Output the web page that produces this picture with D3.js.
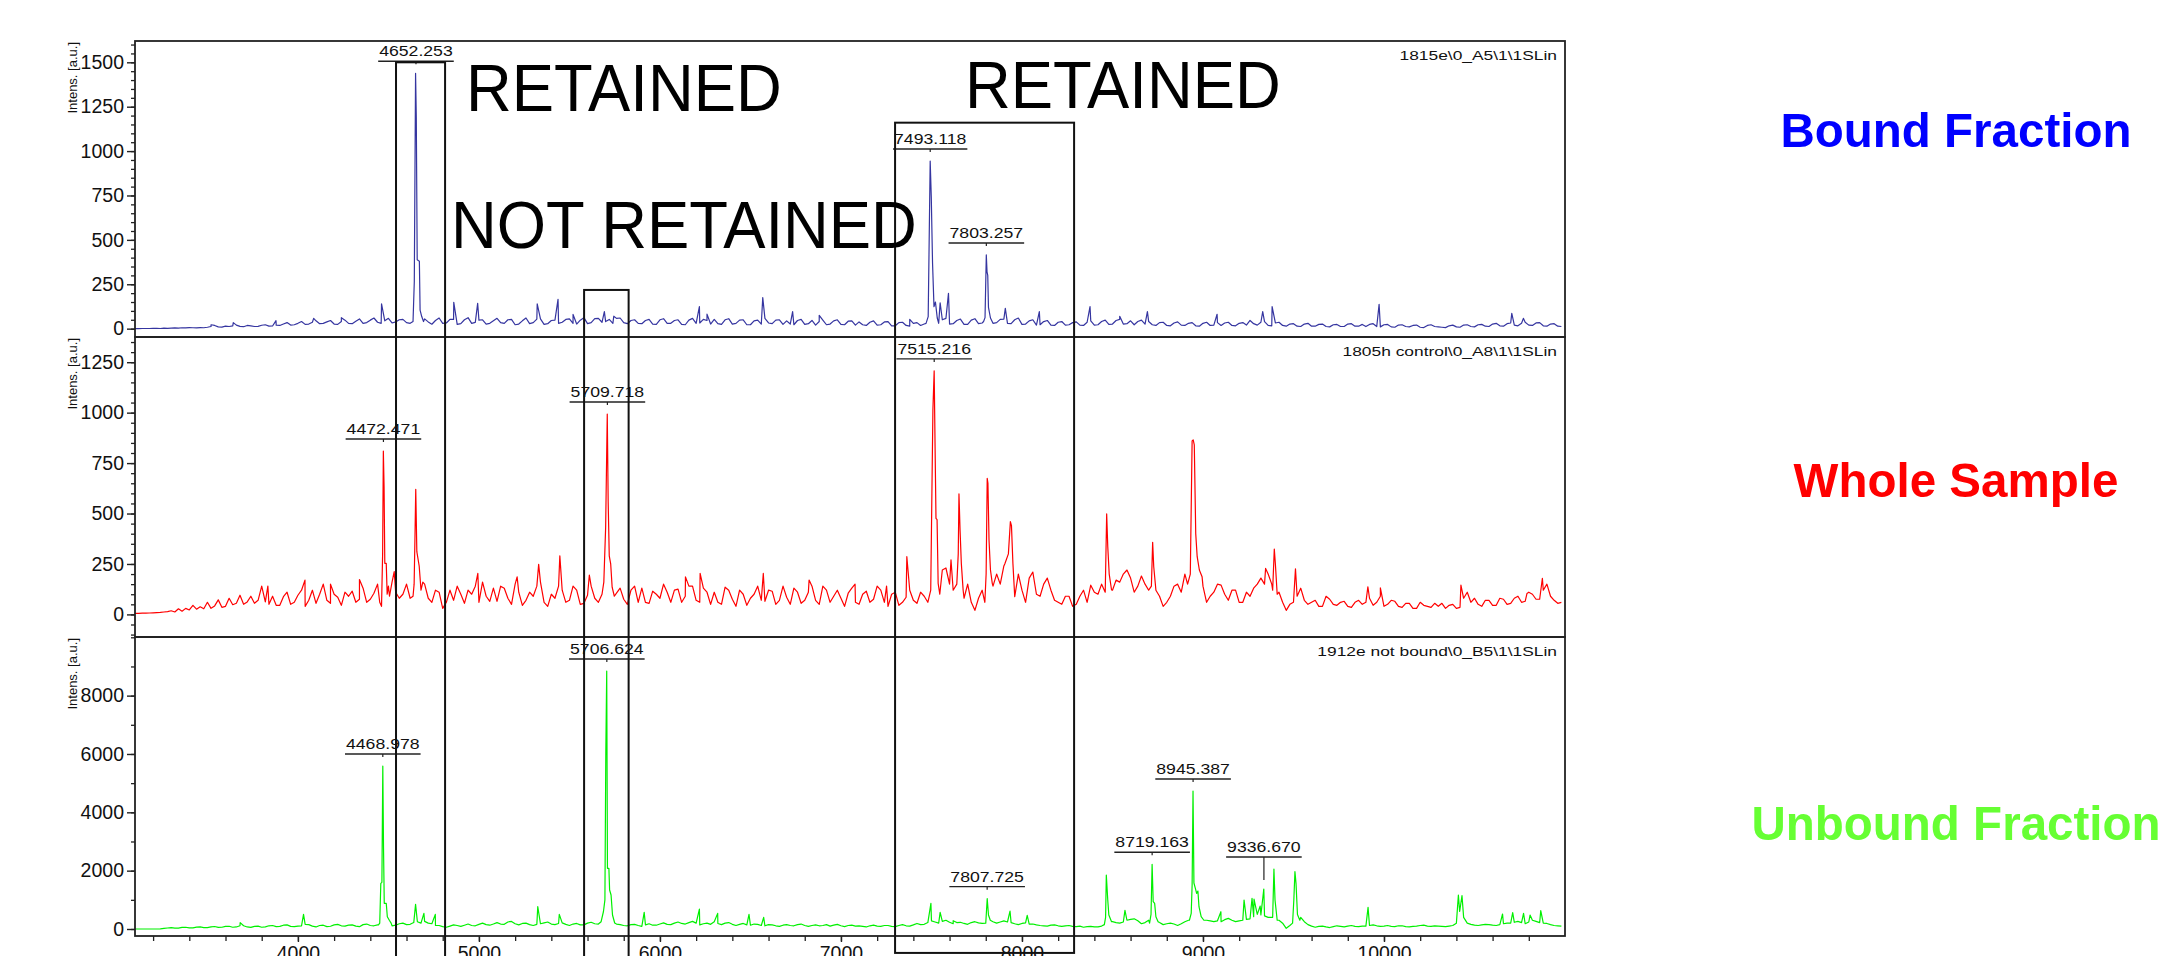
<!DOCTYPE html>
<html>
<head>
<meta charset="utf-8">
<title>Bound / whole / unbound spectra</title>
<script src="https://cdn.jsdelivr.net/npm/d3@7/dist/d3.min.js"></script>
<style>
  body { margin: 0; background: #fff; }
  svg text { font-family: "Liberation Sans", Arial, Helvetica, sans-serif; }
</style>
</head>
<body>
<svg id="chart" width="2167" height="956"></svg>
<script>
// baseline arrays are sampled every massStep Da starting at massStart (one row = 400 Da)
var massStart = 3100;
var massStep = 20;
var massDomain = [3100, 11000];
var massTicks = [4000, 5000, 6000, 7000, 8000, 9000, 10000];

// ---- bound fraction (top panel)
var boundBase = [
  0, 0, 1, 1, 1, 2, 2, 1, 3, 2, 3, 4, 3, 5, 4, 6, 5, 4, 6, 5,
  8, 12, 18, 10, 9, 14, 12, 16, 20, 13, 11, 18, 16, 12, 13, 19, 22, 14, 15, 20,
  18, 26, 34, 20, 22, 30, 40, 24, 26, 36, 44, 28, 30, 38, 46, 26, 24, 40, 48, 30,
  28, 42, 55, 30, 34, 48, 60, 36, 30, 44, 58, 32, 38, 50, 52, 34, 30, 36, 40, 44,
  55, 38, 25, 46, 60, 30, 32, 52, 52, 24, 28, 50, 62, 30, 35, 48, 50, 26, 30, 44,
  58, 34, 30, 50, 52, 22, 26, 44, 60, 28, 34, 54, 55, 24, 28, 46, 48, 30, 36, 52,
  55, 30, 26, 48, 62, 28, 34, 56, 58, 36, 40, 52, 30, 58, 60, 34, 28, 46, 50, 30,
  28, 46, 52, 26, 24, 50, 56, 30, 30, 46, 50, 24, 22, 48, 58, 30, 32, 52, 46, 26,
  52, 28, 24, 50, 56, 26, 30, 48, 50, 22, 22, 44, 48, 26, 58, 32, 28, 48, 50, 24,
  44, 26, 22, 46, 52, 24, 28, 46, 20, 40, 48, 22, 26, 44, 50, 24, 22, 42, 44, 20,
  38, 22, 18, 36, 44, 20, 22, 38, 40, 16, 16, 34, 36, 18, 14, 30, 34, 18, 26, 30,
  48, 30, 30, 50, 58, 26, 28, 46, 54, 24, 24, 48, 56, 28, 32, 50, 60, 30, 34, 52,
  54, 30, 28, 50, 60, 24, 26, 44, 50, 20, 22, 40, 46, 20, 18, 36, 40, 20, 22, 34,
  38, 20, 18, 36, 44, 20, 22, 40, 48, 24, 26, 46, 52, 26, 28, 44, 22, 40, 48, 26,
  40, 22, 18, 34, 36, 18, 16, 32, 38, 20, 18, 30, 34, 16, 14, 30, 36, 18, 20, 34,
  18, 32, 36, 18, 16, 30, 34, 20, 46, 28, 20, 36, 40, 18, 16, 32, 36, 18, 14, 26,
  28, 14, 12, 26, 30, 14, 14, 24, 26, 12, 10, 22, 24, 12, 12, 26, 28, 14, 14, 24,
  12, 24, 28, 12, 10, 22, 24, 10, 8, 20, 22, 12, 10, 18, 20, 8, 6, 18, 22, 12,
  10, 8, 6, 16, 20, 10, 8, 20, 22, 12, 10, 22, 24, 14, 12, 26, 30, 16, 14, 28,
  32, 20, 16, 30, 36, 20, 18, 32, 34, 16, 14, 26, 28, 14, 12
];
var boundSpikes = [
  [3520, 22], [3643, 34], [3879, 45], [4087, 58], [4240, 62], [4462, 139],
  [4861, 148], [4993, 143], [5322, 139], [5437, 165], [5520, 80], [5693, 96],
  [5745, 70], [6218, 124], [6260, 82], [6568, 175], [6733, 96], [6880, 75],
  [7380, 52], [7548, 146], [7594, 199], [7908, 114], [8096, 96], [8376, 124],
  [8540, 70], [8693, 96], [9078, 81], [9330, 96], [9382, 124], [9973, 137],
  [10706, 86], [10770, 58]
];
var boundPeaks = [
  [[4636, 40], [4643, 265], [4650, 1438], [4654, 1190], [4659, 388], [4671, 380], [4675, 104], [4684, 68], [4694, 40]],
  [[7470, 30], [7482, 68], [7493, 944], [7499, 743], [7506, 370], [7514, 124], [7522, 150], [7532, 60]],
  [[7788, 40], [7796, 62], [7803, 415], [7807, 320], [7811, 300], [7815, 120], [7826, 60]]
];
var boundLabels = [4652.253, 7493.118, 7803.257];
var boundTicks = [0, 250, 500, 750, 1000, 1250, 1500];

// ---- whole sample (middle panel)
var wholeBase = [
  5, 5, 6, 6, 7, 8, 9, 10, 12, 14, 18, 12, 28, 16, 30, 22, 45, 26, 38, 28,
  60, 30, 42, 72, 35, 40, 80, 48, 55, 95, 50, 62, 90, 55, 70, 140, 62, 50, 90, 45,
  45, 88, 110, 50, 60, 95, 120, 40, 70, 120, 55, 100, 150, 70, 55, 100, 85, 45, 110, 90,
  115, 60, 75, 130, 60, 75, 105, 150, 140, 90, 120, 160, 110, 80, 100, 150, 80, 40, 110, 90,
  150, 80, 60, 120, 110, 30, 60, 120, 70, 140, 100, 55, 120, 100, 140, 60, 160, 90, 65, 130,
  65, 140, 130, 80, 50, 150, 110, 45, 70, 110, 90, 140, 160, 60, 40, 100, 80, 140, 120, 60,
  70, 140, 120, 50, 55, 95, 140, 80, 60, 110, 100, 40, 70, 105, 130, 75, 50, 120, 140, 60,
  130, 60, 55, 115, 100, 80, 150, 110, 60, 120, 125, 60, 90, 140, 140, 70, 60, 130, 110, 50,
  110, 60, 50, 135, 120, 75, 40, 120, 100, 45, 80, 100, 140, 70, 65, 120, 115, 50, 70, 140,
  85, 50, 130, 110, 55, 70, 110, 140, 70, 50, 140, 120, 60, 90, 120, 80, 40, 105, 130, 60,
  50, 100, 115, 60, 75, 140, 120, 60, 40, 100, 110, 45, 60, 85, 120, 70, 55, 110, 90, 60,
  110, 100, 150, 220, 230, 150, 120, 100, 150, 80, 150, 60, 20, 80, 120, 180, 180, 140, 200, 150,
  240, 220, 150, 110, 200, 120, 60, 180, 210, 100, 90, 150, 180, 120, 70, 60, 50, 90, 90, 40,
  50, 90, 120, 60, 145, 110, 100, 150, 200, 120, 120, 170, 160, 200, 220, 180, 110, 140, 190, 150,
  120, 180, 60, 90, 40, 60, 90, 140, 150, 110, 200, 150, 240, 210, 180, 140, 60, 90, 110, 150,
  145, 100, 70, 120, 120, 60, 60, 110, 90, 130, 150, 180, 150, 200, 150, 110, 110, 60, 20, 50,
  60, 90, 130, 70, 50, 60, 70, 40, 40, 90, 75, 50, 45, 60, 65, 40, 35, 60, 70, 50,
  60, 80, 45, 60, 90, 40, 50, 70, 65, 40, 35, 55, 55, 30, 30, 60, 45, 40, 35, 55,
  40, 55, 30, 45, 50, 30, 35, 80, 110, 60, 80, 50, 40, 70, 70, 45, 45, 80, 75, 50,
  55, 80, 90, 60, 65, 110, 100, 75, 75, 120, 150, 90, 70, 55, 60
];
var wholeSpikes = [
  [3834, 140], [4039, 170], [4180, 150], [4340, 173], [4532, 212], [4994, 203],
  [5211, 186], [5330, 248], [5447, 290], [5610, 195], [6141, 186], [6222, 203],
  [6571, 203], [6824, 170], [7078, 150], [7252, 140], [7364, 286], [7608, 270],
  [9346, 228], [9511, 226], [9911, 137], [9980, 132], [10425, 145], [10790, 104],
  [10875, 179]
];
var wholePeaks = [
  [[4452, 60], [4462, 40], [4468, 300], [4472, 810], [4476, 633], [4480, 253], [4488, 253], [4493, 100], [4500, 140], [4506, 90]],
  [[4636, 90], [4642, 150], [4647, 400], [4651, 620], [4657, 311], [4670, 240], [4680, 120], [4690, 160]],
  [[5680, 100], [5690, 160], [5700, 430], [5709, 993], [5714, 560], [5720, 290], [5728, 250], [5736, 135], [5748, 90]],
  [[7480, 60], [7496, 120], [7508, 1013], [7515, 1207], [7520, 831], [7525, 476], [7531, 470], [7537, 154], [7546, 100]],
  [[7640, 150], [7648, 300], [7652, 597], [7658, 418], [7665, 253], [7675, 121]],
  [[7795, 60], [7802, 200], [7808, 674], [7812, 650], [7818, 369], [7826, 220], [7836, 154]],
  [[7905, 250], [7925, 300], [7936, 460], [7942, 440], [7950, 253], [7960, 88]],
  [[8460, 110], [8468, 498], [8474, 336], [8482, 200], [8495, 121]],
  [[8715, 140], [8722, 357], [8728, 236], [8740, 120]],
  [[8915, 150], [8930, 200], [8940, 860], [8946, 865], [8952, 840], [8960, 400], [8968, 286], [8980, 220], [8995, 187]],
  [[9385, 120], [9394, 324], [9400, 250], [9410, 100]]
];
var wholeLabels = [4472.471, 5709.718, 7515.216];
var wholeTicks = [0, 250, 500, 750, 1000, 1250];

// ---- unbound fraction (bottom panel)
var unboundBase = [
  0, 0, 0, 0, 0, 0, 0, 5, 20, 35, 45, 30, 30, 55, 60, 40, 40, 65, 70, 50,
  50, 75, 85, 55, 60, 90, 95, 60, 70, 110, 110, 70, 55, 90, 100, 60, 75, 110, 120, 80,
  90, 130, 140, 90, 80, 100, 110, 160, 150, 100, 70, 120, 130, 80, 95, 140, 160, 110, 100, 130,
  140, 100, 80, 150, 170, 120, 110, 140, 150, 100, 90, 110, 130, 180, 200, 150, 160, 220, 250, 200,
  260, 200, 180, 120, 120, 80, 60, 100, 140, 120, 90, 130, 170, 120, 110, 160, 200, 150, 130, 170,
  220, 170, 160, 240, 260, 180, 140, 190, 200, 150, 120, 160, 180, 210, 240, 170, 150, 190, 210, 160,
  120, 170, 190, 140, 140, 200, 230, 180, 170, 220, 300, 240, 200, 170, 150, 120, 110, 150, 160, 120,
  90, 140, 180, 130, 130, 170, 210, 160, 150, 200, 240, 190, 170, 220, 260, 200, 140, 180, 200, 160,
  250, 190, 150, 200, 220, 160, 120, 160, 190, 140, 130, 170, 160, 120, 110, 150, 140, 110, 90, 130,
  150, 120, 110, 150, 170, 120, 90, 120, 140, 110, 120, 150, 100, 130, 160, 110, 80, 120, 130, 100,
  110, 90, 70, 110, 130, 100, 90, 120, 120, 90, 80, 120, 150, 110, 100, 140, 190, 150, 160, 220,
  280, 240, 200, 260, 300, 230, 180, 220, 230, 190, 160, 220, 250, 210, 190, 230, 300, 250, 200, 240,
  280, 240, 220, 180, 150, 190, 210, 170, 170, 140, 120, 110, 100, 130, 140, 110, 90, 110, 120, 90,
  80, 100, 60, 80, 90, 70, 70, 100, 250, 300, 250, 220, 200, 240, 300, 330, 350, 280, 180, 220,
  300, 260, 280, 220, 150, 180, 200, 170, 120, 180, 250, 300, 600, 500, 420, 350, 300, 280, 250, 280,
  250, 320, 365, 300, 251, 280, 300, 330, 350, 420, 500, 480, 450, 400, 400, 350, 300, 200, 23, 120,
  300, 350, 400, 250, 150, 100, 60, 90, 100, 70, 50, 80, 110, 90, 70, 100, 120, 90, 80, 100,
  100, 120, 140, 110, 90, 100, 120, 90, 80, 110, 110, 80, 70, 90, 100, 120, 130, 100, 90, 110,
  100, 90, 80, 100, 120, 140, 150, 180, 200, 160, 130, 120, 140, 160, 150, 130, 120, 150, 180, 200,
  200, 230, 260, 220, 180, 240, 300, 260, 220, 200, 190, 150, 120, 110, 100
];
var unboundSpikes = [
  [3681, 217], [4031, 502], [4650, 845], [4696, 536], [4759, 502], [5325, 765],
  [5444, 502], [5913, 571], [6218, 685], [6319, 536], [6492, 502], [6573, 400],
  [7497, 880], [7548, 571], [7620, 285], [7934, 616], [8029, 468], [8569, 639],
  [9099, 593], [9227, 993], [9271, 1051], [9282, 1028], [9316, 788], [9336, 1371],
  [9912, 742], [10655, 514], [10711, 559], [10771, 536], [10807, 479], [10866, 628]
];
var unboundPeaks = [
  [[4445, 140], [4452, 200], [4458, 1566], [4464, 1600], [4469, 5588], [4473, 2766], [4477, 881], [4488, 881], [4494, 422], [4505, 300], [4515, 200]],
  [[5675, 250], [5688, 600], [5696, 1000], [5701, 6080], [5706, 8845], [5710, 2080], [5718, 2080], [5722, 1337], [5730, 1165], [5738, 480], [5750, 206]],
  [[7800, 200], [7808, 1040], [7815, 479], [7825, 300]],
  [[8455, 150], [8462, 400], [8466, 1851], [8474, 993], [8480, 479], [8495, 250]],
  [[8705, 200], [8713, 500], [8719, 2218], [8725, 936], [8733, 879], [8740, 422], [8752, 251]],
  [[8925, 300], [8935, 536], [8940, 1500], [8945, 4731], [8950, 1577], [8958, 1394], [8965, 1222], [8972, 1300], [8978, 765], [8990, 422], [9005, 300]],
  [[9385, 400], [9392, 2056], [9398, 993], [9410, 300]],
  [[9495, 200], [9502, 1000], [9508, 1965], [9514, 1565], [9522, 500], [9535, 300]],
  [[10400, 200], [10411, 1165], [10418, 600], [10431, 1142], [10440, 400]]
];
var unboundLabels = [4468.978, 5706.624, 7807.725, 8719.163, 8945.387, 9336.670];
var unboundTicks = [0, 2000, 4000, 6000, 8000];

var panelTitles = ['1815e\\0_A5\\1\\1SLin', '1805h control\\0_A8\\1\\1SLin', '1912e not bound\\0_B5\\1\\1SLin'];
var sideNames = ['Bound Fraction', 'Whole Sample', 'Unbound Fraction'];

// highlight boxes: m/z span, top in bound-fraction units, bottom in unbound units
var boxFrom = [4542, 5581, 7299];
var boxTo = [4813, 5827, 8288];
var boxTop = [1500, 218, 1160];
var boxBottom = [-1200, -1200, -820];

var svg = d3.select('#chart');

var x = d3.scaleLinear().domain(massDomain).range([135, 1565]);

function buildSpectrum(base, spikes, peaks) {
  var pts = base.map(function(v, i) { return [massStart + i * massStep, v]; });
  peaks.forEach(function(g) {
    var lo = g[0][0], hi = g[g.length - 1][0];
    pts = pts.filter(function(p) { return p[0] < lo || p[0] > hi; });
  });
  peaks.forEach(function(g) { pts = pts.concat(g); });
  pts = pts.concat(spikes);
  pts.sort(function(a, b) { return a[0] - b[0]; });
  return pts;
}

// stretch a text element to a multiple of its natural width
function stretch(sel, k) {
  var w = sel.node().getComputedTextLength() * k;
  sel.attr('textLength', w).attr('lengthAdjust', 'spacingAndGlyphs');
  return w;
}

var panels = [
  { base: boundBase, spikes: boundSpikes, peaks: boundPeaks, labels: boundLabels, ticks: boundTicks,
    color: '#3535a0', top: 41, bottom: 337, domain: [-47, 1620], minor: 50, side: '#0000ff', sideY: 147 },
  { base: wholeBase, spikes: wholeSpikes, peaks: wholePeaks, labels: wholeLabels, ticks: wholeTicks,
    color: '#ff0000', top: 337, bottom: 637, domain: [-112, 1375], minor: 50, side: '#ff0000', sideY: 497 },
  { base: unboundBase, spikes: unboundSpikes, peaks: unboundPeaks, labels: unboundLabels, ticks: unboundTicks,
    color: '#00f000', top: 637, bottom: 936, domain: [-240, 10010], minor: 1000, side: '#66ff33', sideY: 840 }
];

var defs = svg.append('defs');

panels.forEach(function(p, i) {
  p.y = d3.scaleLinear().domain(p.domain).range([p.bottom, p.top]);
  p.series = buildSpectrum(p.base, p.spikes, p.peaks);

  defs.append('clipPath')
    .attr('id', 'clip-' + i)
    .append('rect')
    .attr('x', 135).attr('y', p.top)
    .attr('width', 1430).attr('height', p.bottom - p.top);

  // minor ticks
  var lo = Math.ceil(p.domain[0] / p.minor) * p.minor;
  var minorVals = d3.range(lo, p.domain[1], p.minor);
  var gm = svg.append('g')
    .attr('transform', 'translate(135,0)')
    .call(d3.axisLeft(p.y).tickValues(minorVals).tickSize(4).tickFormat(''));
  gm.select('.domain').remove();
  gm.selectAll('line').attr('stroke', '#222').attr('stroke-width', 1.3);

  // major ticks
  var ga = svg.append('g')
    .attr('transform', 'translate(135,0)')
    .call(d3.axisLeft(p.y).tickValues(p.ticks).tickSize(8).tickPadding(3).tickFormat(d3.format('d')));
  ga.select('.domain').remove();
  ga.selectAll('line').attr('stroke', '#222').attr('stroke-width', 1.4);
  ga.selectAll('text')
    .attr('font-size', 19.5)
    .attr('font-family', '"Liberation Sans", Arial, sans-serif')
    .attr('fill', '#111');

  // axis title
  svg.append('text')
    .attr('transform', 'translate(77,' + (p.top + 1) + ') rotate(-90)')
    .attr('text-anchor', 'end')
    .attr('font-size', 13)
    .attr('fill', '#111')
    .text('Intens. [a.u.]');

  // spectrum trace
  var line = d3.line()
    .x(function(d) { return x(d[0]); })
    .y(function(d) { return p.y(d[1]); });
  svg.append('path')
    .datum(p.series)
    .attr('clip-path', 'url(#clip-' + i + ')')
    .attr('fill', 'none')
    .attr('stroke', p.color)
    .attr('stroke-width', 1.2)
    .attr('stroke-linejoin', 'round')
    .attr('d', line);

  // frame
  svg.append('rect')
    .attr('x', 135).attr('y', p.top)
    .attr('width', 1430).attr('height', p.bottom - p.top)
    .attr('fill', 'none')
    .attr('stroke', '#222')
    .attr('stroke-width', 1.8);

  // spectrum name, top right
  var t = svg.append('text')
    .attr('x', 1557).attr('y', p.top + 19)
    .attr('text-anchor', 'end')
    .attr('font-size', 12.5)
    .attr('fill', '#111')
    .text(panelTitles[i]);
  stretch(t, 1.39);

  // peak labels
  p.labels.forEach(function(m) {
    var own = d3.max(p.series.filter(function(d) { return Math.abs(d[0] - m) <= 10; }), function(d) { return d[1]; });
    var level = d3.max(p.series.filter(function(d) { return Math.abs(d[0] - m) <= 60; }), function(d) { return d[1]; });
    var cx = x(m);
    var uy = p.y(level) - 12;
    var g = svg.append('g');
    var lt = g.append('text')
      .attr('x', cx).attr('y', uy - 5)
      .attr('text-anchor', 'middle')
      .attr('font-size', 14)
      .attr('fill', '#111')
      .text(m.toFixed(3));
    var w = stretch(lt, 1.26);
    g.append('line')
      .attr('x1', cx - w / 2 - 1).attr('x2', cx + w / 2 + 1)
      .attr('y1', uy).attr('y2', uy)
      .attr('stroke', '#222').attr('stroke-width', 1.4);
    g.append('line')
      .attr('x1', cx).attr('x2', cx)
      .attr('y1', uy).attr('y2', p.y(own) - 9)
      .attr('stroke', '#222').attr('stroke-width', 1.2);
  });

  // sample name on the right
  var s = svg.append('text')
    .attr('x', 1956).attr('y', p.sideY)
    .attr('text-anchor', 'middle')
    .attr('font-size', 49)
    .attr('font-weight', 'bold')
    .attr('fill', p.side)
    .text(sideNames[i]);
  stretch(s, 0.97);
});

// m/z axis under the bottom panel
var minorX = d3.range(3200, 11000, 200);
var gx = svg.append('g')
  .attr('transform', 'translate(0,936)')
  .call(d3.axisBottom(x).tickValues(minorX).tickSize(5).tickFormat(''));
gx.select('.domain').remove();
gx.selectAll('line').attr('stroke', '#222').attr('stroke-width', 1.3);

var gx2 = svg.append('g')
  .attr('transform', 'translate(0,936)')
  .call(d3.axisBottom(x).tickValues(massTicks).tickSize(6).tickPadding(4).tickFormat(d3.format('d')));
gx2.select('.domain').remove();
gx2.selectAll('line').attr('stroke', '#222').attr('stroke-width', 1.4);
gx2.selectAll('text')
  .attr('font-size', 19.5)
  .attr('font-family', '"Liberation Sans", Arial, sans-serif')
  .attr('fill', '#111');

// highlight boxes spanning the panels
var yTop = panels[0].y, yBot = panels[2].y;
svg.append('g')
  .selectAll('rect')
  .data(boxFrom)
  .enter()
  .append('rect')
  .attr('x', function(d) { return x(d); })
  .attr('width', function(d, i) { return x(boxTo[i]) - x(d); })
  .attr('y', function(d, i) { return yTop(boxTop[i]); })
  .attr('height', function(d, i) { return yBot(boxBottom[i]) - yTop(boxTop[i]); })
  .attr('fill', 'none')
  .attr('stroke', '#111')
  .attr('stroke-width', 2);

// big annotations
var notes = [
  { text: 'RETAINED', x: 466, y: 111 },
  { text: 'RETAINED', x: 965, y: 108 },
  { text: 'NOT RETAINED', x: 451, y: 248 }
];
notes.forEach(function(n) {
  var t = svg.append('text')
    .attr('x', n.x).attr('y', n.y)
    .attr('font-size', 66)
    .attr('fill', '#000')
    .text(n.text);
  stretch(t, 0.96);
});
</script>
</body>
</html>
